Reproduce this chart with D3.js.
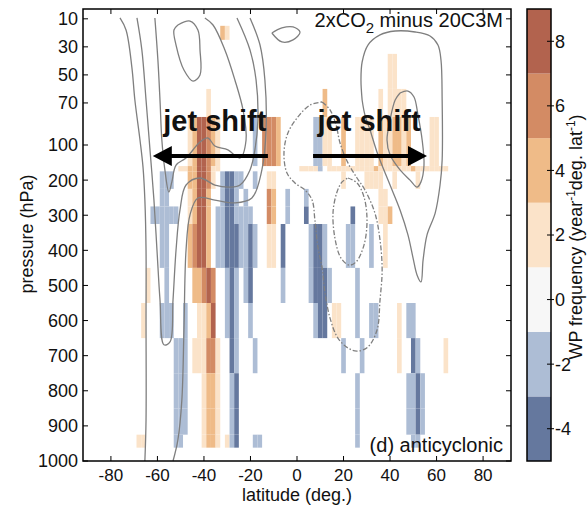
<!DOCTYPE html>
<html>
<head>
<meta charset="utf-8">
<script src="https://cdn.jsdelivr.net/npm/d3@7"></script>
<style>
  body { margin: 0; background: #fff; }
  text { font-family: "Liberation Sans", Arial, Helvetica, sans-serif; fill: #111; }
</style>
</head>
<body>
<svg id="chart" width="587" height="506"></svg>
<script>
// ---- axes ----
const latTicks = [-80, -60, -40, -20, 0, 20, 40, 60, 80];
const pressureTicks = [10, 30, 50, 70, 100, 200, 300, 400, 500, 600, 700, 800, 900, 1000];

// ---- colour classes of the frequency change ----
const classBounds = [-5, -3, -1, 1, 3, 5, 7, 9];
const classColors = ["#65789e", "#adbdd5", "#f7f7f7", "#fbe3c9", "#efbb88", "#d38b64", "#b2634e"];
const colorTicks = [-4, -2, 0, 2, 4, 6, 8];

// ---- pressure bands (hPa, top and bottom) ----
const bands = [
  [15, 25], [35, 60], [60, 80], [80, 160], [160, 175], [175, 225], [225, 275],
  [275, 325], [325, 450], [450, 550], [550, 650], [650, 750], [750, 850],
  [850, 925], [925, 962]
];
// frequency change per band, as [latitude, value] pairs
const bandValues = [
  [[-32, 4], [-30, 2]],
  [[40, 2], [42, 2]],
  [[-38, 2], [12, 4], [36, 2], [40, 2], [42, 2], [44, 2], [46, 2]],
  [[-46, 2], [-44, 4], [-42, 8], [-40, 8], [-38, 6], [-36, 4], [-34, 2], [-18, -2],
   [-14, 6], [-12, 6], [-10, 6], [-8, 4], [8, -2], [10, -2], [12, 2], [14, 2], [20, 4],
   [26, 2], [28, 2], [30, 2], [32, 2], [36, 4], [38, 2], [40, 2], [42, 4], [44, 4], [46, 2],
   [48, 4], [58, 2], [60, 2]],
  [[-50, 2], [-48, 2], [-46, 4], [-44, 4], [-42, 8], [-40, 8], [-38, 6], [-36, 2], [-34, 2],
   [2, 2], [4, 2], [6, 2], [8, 2], [10, -2], [14, 2], [16, 2], [18, 2], [20, 2], [22, 2],
   [24, 2], [26, 2], [28, 2], [30, 2], [32, 2], [34, 4], [36, 2], [38, 2], [40, 2], [42, 2],
   [44, 2], [46, 2], [48, 2], [50, 4], [52, 2], [54, 2], [56, 2], [58, 2], [60, 2], [62, 2], [64, 2]],
  [[-58, -2], [-56, -2], [-54, -2], [-46, 4], [-44, 4], [-42, 8], [-40, 8], [-38, 6], [-36, 2],
   [-32, -2], [-30, -4], [-28, -4], [-26, -2], [-24, -2], [-18, -2], [-12, 2], [-10, 2],
   [20, 2], [30, 2], [32, 2], [34, 2], [36, 2], [42, 2], [52, 2]],
  [[-58, -2], [-56, -2], [-46, 2], [-44, 4], [-42, 8], [-40, 8], [-38, 4],
   [-32, -2], [-30, -4], [-28, -4], [-26, -2], [-22, -2], [-12, 6], [-10, 4], [-4, -2], [4, -2],
   [36, 2], [38, 2]],
  [[-62, -2], [-60, -2], [-58, -2], [-56, -2], [-54, -2], [-52, -2], [-46, 2], [-44, 4], [-42, 8],
   [-40, 8], [-38, 4], [-34, -2], [-32, -2], [-30, -4], [-28, -4], [-26, -2], [-24, -2],
   [-22, -2], [-20, -2], [-12, 6], [-10, 4], [-4, -2], [4, -4], [24, -4], [36, 2], [38, 2], [40, 4]],
  [[-58, -2], [-56, -2], [-46, 4], [-44, 6], [-42, 8], [-40, 8], [-38, 4], [-34, -2], [-32, -2],
   [-30, -4], [-28, -4], [-26, -4], [-24, -2], [-22, -2], [-20, -4], [-18, -2], [-12, 2], [-10, 2],
   [-6, -4], [6, -2], [8, -4], [10, -4], [12, -2], [22, -2], [24, -2], [32, -2], [38, 2]],
  [[-64, 2], [-56, -2], [-44, 4], [-42, 4], [-40, 6], [-38, 8], [-36, 6], [-30, -2], [-28, -4],
   [-26, -2], [-22, -2], [-20, -4], [-6, -2], [6, -2], [8, -4], [10, -4], [12, -4], [14, -2], [26, -2]],
  [[-66, 2], [-58, -2], [-56, -2], [-54, -2], [-48, -2], [-42, 2], [-40, 2], [-38, 4], [-36, 8],
   [-30, -2], [-28, -4], [-26, -2], [-20, -2], [8, -2], [10, -4], [12, -4], [16, 2], [18, 2],
   [26, -2], [32, -2], [34, -2], [44, 2], [48, -2], [50, -2]],
  [[-52, -2], [-50, -2], [-48, -2], [-44, 2], [-42, 2], [-40, 2], [-38, 6], [-36, 6], [-34, 2],
   [-28, -4], [-26, -2], [-18, -2], [20, -2], [28, -2], [44, 2], [50, -4], [52, -2], [64, 2]],
  [[-52, -2], [-50, -2], [-48, -2], [-40, 2], [-38, 4], [-36, 4], [-34, 2], [-28, -2], [-26, -4],
   [26, -2], [48, -2], [50, -2], [52, -4], [54, -2]],
  [[-52, -2], [-50, -2], [-48, -2], [-40, 2], [-38, 4], [-36, 4], [-34, 2], [-28, -2], [-26, -4],
   [26, -2], [48, -2], [50, -2], [52, -4], [54, -2]],
  [[-68, 2], [-66, 2], [-52, -2], [-50, -2], [-40, 2], [-38, 4], [-36, 4], [-34, 2], [-30, 2],
   [-28, -2], [-26, -4], [-18, -2], [-16, -2], [26, -2], [50, -2], [52, -2]]
];
const cellWidth = 2; // degrees latitude

// ---- wind contours, [latitude, pressure] ----
const solidContours = [
  // poleward flank of the southern jet, reaching the surface
  [[-76.1, 9.4], [-73.5, 18], [-71, 44.4], [-69.7, 67.9], [-67.5, 96.4], [-66.2, 163], [-65.4, 257],
   [-64.9, 399], [-64.9, 598], [-64.9, 883], [-65.4, 1000]],
  // equatorward flank, from the surface up to the stratosphere
  [[-53.3, 1000], [-51.2, 940], [-49.5, 826], [-48.6, 627], [-47.7, 399], [-46, 299], [-42.6, 251],
   [-35.3, 257], [-26.7, 265], [-19.4, 251], [-15.1, 171], [-13.3, 89.3], [-13.8, 53.6], [-15.9, 28.7], [-20.2, 9.4]],
  // deep U-shaped contour
  [[-68.8, 9.4], [-66.7, 32.2], [-64.9, 67.9], [-63.2, 114], [-61.5, 257], [-60.2, 399], [-58.9, 541],
   [-57.2, 669], [-54.6, 661], [-53.3, 541], [-52, 399], [-50.3, 285], [-47.7, 214], [-41.7, 194],
   [-35.3, 214], [-28.8, 220], [-24.5, 214], [-20.2, 171], [-18.1, 114], [-16.8, 82.2], [-17.6, 53.6],
   [-20.2, 32.2], [-25.8, 9.4]],
  // jet core contour
  [[-61.1, 9.4], [-59.8, 39.4], [-58.9, 67.9], [-58.1, 96.4], [-56.8, 171], [-55.1, 234], [-53.8, 205],
   [-52, 157], [-47.7, 137], [-41.7, 97.9], [-38.3, 95], [-35.3, 103], [-29.7, 114], [-24.5, 137],
   [-21.9, 96.4], [-23.2, 75], [-26.7, 53.6], [-31, 32.2], [-36.1, 14.4], [-39.6, 9.4]],
  // stratospheric closed loop
  [[-51.2, 14.4], [-46, 11.6], [-42.6, 18], [-41.7, 32.2], [-41.7, 50], [-44.7, 54.4], [-48.6, 46.5],
   [-52, 28.7], [-52.9, 18], [-51.2, 14.4]],
  // small loop near the equator aloft
  [[-10.8, 20.1], [-6.5, 16.5], [-1.7, 15.8], [1.3, 19.5], [-1.7, 25], [-6.5, 26.5], [-10.8, 20.1]],
  // northern jet, outer and inner
  [[28, 67.9], [27.5, 53.6], [28, 40.8], [30.5, 28.7], [35.7, 21.5], [42.2, 18.7], [50.8, 19.4],
   [57.2, 22.3], [60.6, 28.7], [61.9, 39.4], [62.4, 67.9], [62.4, 143], [61.5, 214], [59.4, 294],
   [55.9, 356], [54.2, 428], [53.3, 490], [51.6, 470], [49.9, 422], [47.7, 356], [44.3, 285],
   [40, 214], [34.8, 128], [31.4, 89.3], [29.2, 78.6], [28, 67.9]],
  [[44.3, 62.9], [47.7, 61.5], [50.3, 65.8], [52, 78.6], [53.8, 96.4], [54.6, 157], [53.3, 205],
   [51.6, 220], [48.6, 200], [44.3, 171], [40, 128], [38.7, 96.4], [40, 82.2], [42.2, 67.9], [44.3, 62.9]]
];
const dashedContours = [
  [[10.8, 69.3], [14.2, 75], [16.8, 85.7], [18.5, 98.6], [21.9, 151], [25.8, 194], [29.2, 228],
   [33.5, 294], [35.7, 371], [36.6, 456], [35.7, 541], [34.4, 627], [30.5, 675], [25.8, 687],
   [21.9, 678], [17.6, 650], [14.2, 593], [12, 519], [10.8, 450], [9, 391], [7.7, 314], [6.5, 257],
   [3.4, 228], [-0.9, 208], [-4.3, 180], [-5.6, 123], [-3.9, 91.4], [0.4, 80], [5.6, 71.5], [10.8, 69.3]],
  [[21.9, 194], [25.8, 208], [28.8, 248], [30.1, 314], [28.8, 385], [25.4, 433], [22.4, 442],
   [18.9, 422], [16.3, 365], [15.5, 291], [17.2, 234], [19.4, 205], [21.9, 194]]
];

// ---- jet shift arrows at the jet level: [from, to] latitude, label centre ----
const shiftLevel = 131;
const shiftArrows = [[-12.5, -62, -35.3], [6.9, 55.9, 31.0]];

// ---- layout ----
const svg = d3.select("#chart");
const plot = { left: 83, right: 511, top: 9, bottom: 461 };
const x = d3.scaleLinear().domain([-92, 92]).range([plot.left, plot.right]);
const y = d3.scaleLinear().domain([3, 100, 1000]).range([plot.top, 145, plot.bottom]);
const color = d3.scaleThreshold().domain(classBounds.slice(1, -1)).range(classColors);

svg.append("rect").attr("width", 587).attr("height", 506).attr("fill", "#fff");

// cells
const cellLayer = svg.append("g");
bands.forEach((band, i) => {
  cellLayer.selectAll(null)
    .data(bandValues[i].filter(d => d[1] !== 0))
    .enter().append("rect")
    .attr("x", d => x(d[0] - cellWidth / 2))
    .attr("width", d => x(d[0] + cellWidth / 2) - x(d[0] - cellWidth / 2))
    .attr("y", y(band[0]))
    .attr("height", y(band[1]) - y(band[0]))
    .attr("fill", d => color(d[1]));
});

// contours
const line = d3.line().x(d => x(d[0])).y(d => y(d[1])).curve(d3.curveCatmullRom.alpha(0.5));
const contourLayer = svg.append("g").attr("fill", "none").attr("stroke", "#7f7f7f").attr("stroke-width", 1.3);
contourLayer.selectAll(null).data(solidContours).enter().append("path").attr("d", line);
contourLayer.selectAll(null).data(dashedContours).enter().append("path").attr("d", line)
  .attr("stroke-dasharray", "5,2,1.5,2");

// frame
svg.append("rect").attr("x", plot.left).attr("y", plot.top)
  .attr("width", plot.right - plot.left).attr("height", plot.bottom - plot.top)
  .attr("fill", "none").attr("stroke", "#000").attr("stroke-width", 1.5);

// ticks (inward, on all four sides) and labels
const tickLen = 5;
latTicks.forEach(t => {
  svg.append("line").attr("x1", x(t)).attr("x2", x(t)).attr("y1", plot.bottom).attr("y2", plot.bottom - tickLen).attr("stroke", "#000");
  svg.append("line").attr("x1", x(t)).attr("x2", x(t)).attr("y1", plot.top).attr("y2", plot.top + tickLen).attr("stroke", "#000");
  svg.append("text").attr("x", x(t)).attr("y", 481).attr("text-anchor", "middle")
    .attr("font-size", 17).text(t);
});
pressureTicks.forEach(t => {
  svg.append("line").attr("x1", plot.left).attr("x2", plot.left + tickLen).attr("y1", y(t)).attr("y2", y(t)).attr("stroke", "#000");
  svg.append("line").attr("x1", plot.right).attr("x2", plot.right - tickLen).attr("y1", y(t)).attr("y2", y(t)).attr("stroke", "#000");
  svg.append("text").attr("x", 78).attr("y", y(t)).attr("dy", "0.36em").attr("text-anchor", "end")
    .attr("font-size", 18).text(t);
});
svg.append("text").attr("x", 297).attr("y", 501).attr("text-anchor", "middle").attr("font-size", 18)
  .text("latitude (deg.)");
svg.append("text").attr("transform", "translate(33,234) rotate(-90)").attr("text-anchor", "middle")
  .attr("font-size", 18).text("pressure (hPa)");

// title and panel label
const title = svg.append("text").attr("x", 503).attr("y", 27).attr("text-anchor", "end").attr("font-size", 20);
title.append("tspan").text("2xCO");
title.append("tspan").attr("font-size", 15).attr("dy", 6).text("2");
title.append("tspan").attr("dy", -6).text(" minus 20C3M");
svg.append("text").attr("x", 503).attr("y", 452).attr("text-anchor", "end").attr("font-size", 20)
  .text("(d) anticyclonic");

// jet shift arrows and labels
shiftArrows.forEach(([from, to, labelLat]) => {
  const y0 = y(shiftLevel);
  const dir = Math.sign(to - from);
  const headLen = 19, headHalf = 10;
  svg.append("line").attr("x1", x(from)).attr("x2", x(to) - dir * headLen + dir * 2)
    .attr("y1", y0).attr("y2", y0).attr("stroke", "#000").attr("stroke-width", 4);
  svg.append("path")
    .attr("d", `M${x(to)},${y0}L${x(to) - dir * headLen},${y0 - headHalf}L${x(to) - dir * headLen},${y0 + headHalf}Z`)
    .attr("fill", "#000");
  svg.append("text").attr("x", x(labelLat)).attr("y", 131)
    .attr("text-anchor", "middle").attr("font-size", 29).attr("font-weight", "bold").attr("fill", "#222")
    .text("jet shift");
});

// colour bar
const cb = { left: 527, right: 551 };
const cy = d3.scaleLinear().domain([-5, 9]).range([plot.bottom, plot.top]);
classColors.forEach((c, i) => {
  svg.append("rect").attr("x", cb.left).attr("width", cb.right - cb.left)
    .attr("y", cy(classBounds[i + 1])).attr("height", cy(classBounds[i]) - cy(classBounds[i + 1]))
    .attr("fill", c);
});
svg.append("rect").attr("x", cb.left).attr("y", plot.top).attr("width", cb.right - cb.left)
  .attr("height", plot.bottom - plot.top).attr("fill", "none").attr("stroke", "#000").attr("stroke-width", 1.5);
colorTicks.forEach(t => {
  svg.append("line").attr("x1", cb.right - 4).attr("x2", cb.right + 3).attr("y1", cy(t)).attr("y2", cy(t)).attr("stroke", "#000");
  svg.append("text").attr("x", 555).attr("y", cy(t)).attr("dy", "0.36em").attr("font-size", 18).text(t);
});
const cbLabel = svg.append("text").attr("transform", "translate(582,237) rotate(-90)")
  .attr("text-anchor", "middle").attr("font-size", 18);
cbLabel.append("tspan").text("WP frequency (year");
cbLabel.append("tspan").attr("font-size", 12).attr("dy", -7).text("-1");
cbLabel.append("tspan").attr("dy", 7).text("deg. lat");
cbLabel.append("tspan").attr("font-size", 12).attr("dy", -7).text("-1");
cbLabel.append("tspan").attr("dy", 7).text(")");
</script>
</body>
</html>
